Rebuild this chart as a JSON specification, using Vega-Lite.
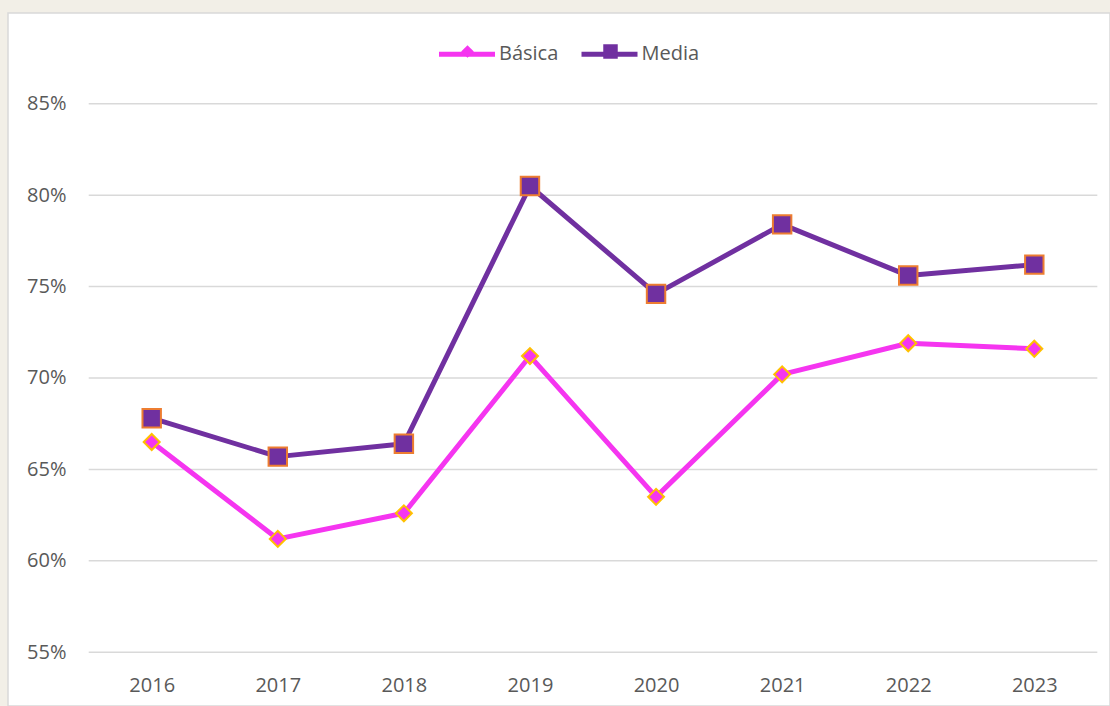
{
  "$schema": "https://vega.github.io/schema/vega-lite/v6.json",
  "width": 1102,
  "height": 693,
  "autosize": {"type": "none"},
  "padding": {"left": 8, "top": 13, "right": 0, "bottom": 0},
  "background": "#f2efe7",
  "config": {
    "view": {"fill": "#ffffff", "stroke": "#d9d9d9", "strokeWidth": 1.5},
    "font": "Open Sans"
  },
  "data": {
    "values": [
      {"year": "2016", "serie": "Básica", "value": 0.665},
      {"year": "2017", "serie": "Básica", "value": 0.612},
      {"year": "2018", "serie": "Básica", "value": 0.626},
      {"year": "2019", "serie": "Básica", "value": 0.712},
      {"year": "2020", "serie": "Básica", "value": 0.635},
      {"year": "2021", "serie": "Básica", "value": 0.702},
      {"year": "2022", "serie": "Básica", "value": 0.719},
      {"year": "2023", "serie": "Básica", "value": 0.716},
      {"year": "2016", "serie": "Media", "value": 0.678},
      {"year": "2017", "serie": "Media", "value": 0.657},
      {"year": "2018", "serie": "Media", "value": 0.664},
      {"year": "2019", "serie": "Media", "value": 0.805},
      {"year": "2020", "serie": "Media", "value": 0.746},
      {"year": "2021", "serie": "Media", "value": 0.784},
      {"year": "2022", "serie": "Media", "value": 0.756},
      {"year": "2023", "serie": "Media", "value": 0.762}
    ]
  },
  "resolve": {"scale": {"shape": "independent"}},
  "layer": [
    {
      "data": {"values": [{"v": 0.55}, {"v": 0.60}, {"v": 0.65}, {"v": 0.70}, {"v": 0.75}, {"v": 0.80}, {"v": 0.85}]},
      "mark": {"type": "rule", "color": "#d9d9d9", "strokeWidth": 1.5, "xOffset": -63, "x2Offset": 63},
      "encoding": {
        "y": {"field": "v", "type": "quantitative"},
        "x": {"datum": "2016", "type": "ordinal"},
        "x2": {"datum": "2023"}
      }
    },
    {
      "mark": {"type": "line", "strokeWidth": 5, "strokeJoin": "round", "strokeCap": "round"},
      "encoding": {
        "x": {
          "field": "year", "type": "ordinal",
          "scale": {"type": "point", "padding": 0.87, "align": 0.655},
          "axis": {"title": null, "labelAngle": 0, "labelAlign": "center", "labelBaseline": "top", "domain": false, "ticks": false, "tickSize": 0, "labelPadding": 0, "offset": -31, "labelFont": "Open Sans", "labelFontSize": 20, "labelColor": "#595959", "grid": false, "zindex": 1}
        },
        "y": {
          "field": "value", "type": "quantitative",
          "scale": {"domain": [0.52063, 0.8996], "nice": false, "zero": false},
          "axis": {"title": null, "values": [0.55, 0.6, 0.65, 0.7, 0.75, 0.8, 0.85], "format": ".0%", "grid": false, "domain": false, "ticks": false, "tickSize": 0, "labelPadding": 0, "offset": -58, "labelFont": "Open Sans", "labelFontSize": 20, "labelColor": "#595959", "zindex": 1}
        },
        "stroke": {
          "field": "serie", "type": "nominal",
          "scale": {"domain": ["Básica", "Media"], "range": ["#f535f0", "#7030a0"]},
          "legend": {
            "orient": "none", "legendX": 428.5, "legendY": 10.5, "direction": "horizontal", "title": null,
            "symbolType": "stroke", "symbolSize": 3136, "symbolStrokeWidth": 5,
            "labelFont": "Open Sans", "labelFontSize": 20, "labelColor": "#595959",
            "labelOffset": 1.5, "columnPadding": 12.5, "padding": 0
          }
        }
      }
    },
    {
      "transform": [{"filter": "datum.serie === 'Básica'"}],
      "mark": {"type": "point", "filled": true, "opacity": 1, "strokeWidth": 2, "fill": "#f535f0", "stroke": "#ffc000", "size": 256},
      "encoding": {
        "x": {"field": "year", "type": "ordinal"},
        "y": {"field": "value", "type": "quantitative"},
        "shape": {
          "field": "serie", "type": "nominal",
          "scale": {"range": ["diamond"]},
          "legend": {
            "orient": "none", "legendX": 452, "legendY": 31, "title": null,
            "symbolSize": 160, "symbolStrokeWidth": 2, "symbolFillColor": "#f535f0", "symbolStrokeColor": "#ffc000", "symbolOpacity": 1,
            "labelExpr": "''", "labelFontSize": 1, "labelOffset": 0, "padding": 0
          }
        }
      }
    },
    {
      "transform": [{"filter": "datum.serie === 'Media'"}],
      "mark": {"type": "point", "filled": true, "opacity": 1, "strokeWidth": 2, "fill": "#7030a0", "stroke": "#ed7d31", "size": 340},
      "encoding": {
        "x": {"field": "year", "type": "ordinal"},
        "y": {"field": "value", "type": "quantitative"},
        "shape": {
          "field": "serie", "type": "nominal",
          "scale": {"range": ["square"]},
          "legend": {
            "orient": "none", "legendX": 594, "legendY": 30, "title": null,
            "symbolSize": 210, "symbolStrokeWidth": 2, "symbolFillColor": "#7030a0", "symbolStrokeColor": "#ed7d31", "symbolOpacity": 1,
            "labelExpr": "''", "labelFontSize": 1, "labelOffset": 0, "padding": 0
          }
        }
      }
    }
  ]
}
